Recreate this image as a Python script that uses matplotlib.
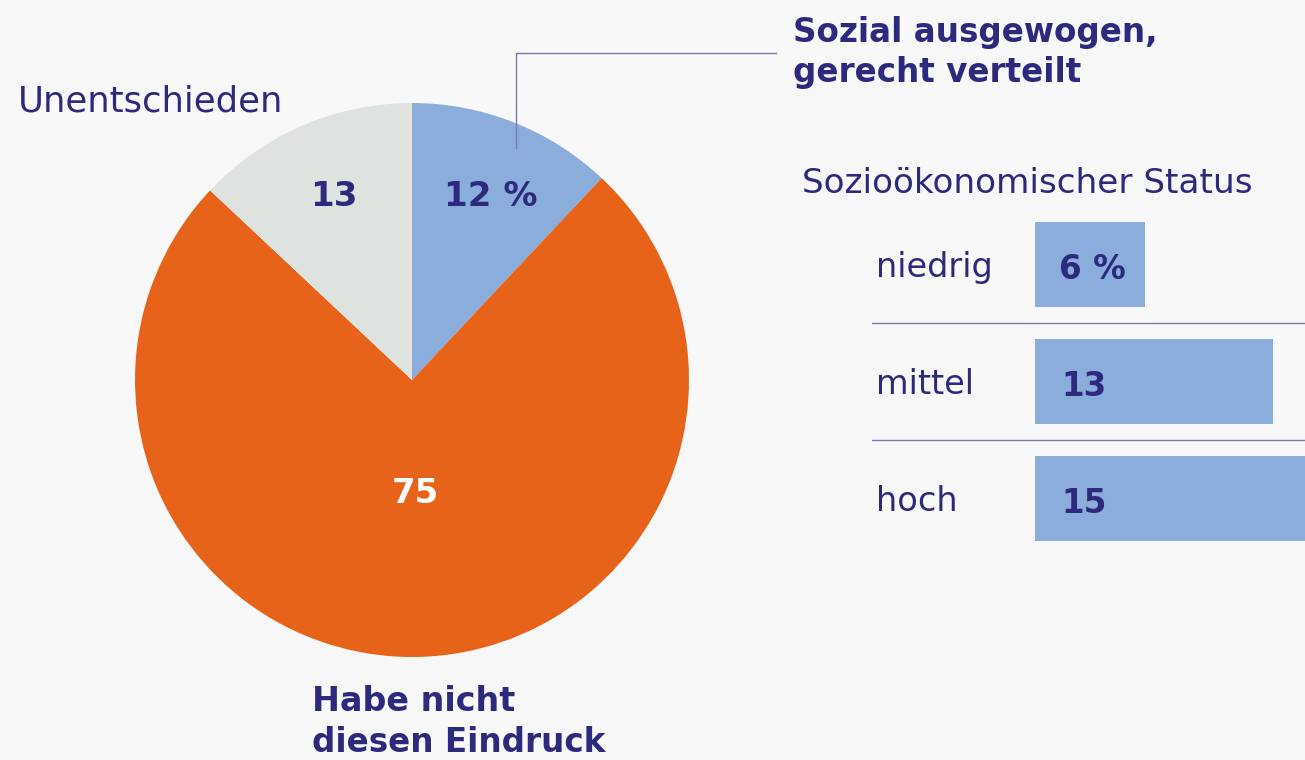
import numpy as np
import matplotlib
matplotlib.use("Agg")
import matplotlib.pyplot as plt
from matplotlib.lines import Line2D

# pie: share of respondents
pie_labels = [["Sozial ausgewogen,", "gerecht verteilt"],
              ["Habe nicht", "diesen Eindruck"],
              ["Unentschieden"]]
pie_values = [12, 75, 13]
pie_texts = ["12 %", "75", "13"]

# bars: "sozial ausgewogen" by socio-economic status
status = ["niedrig", "mittel", "hoch"]
status_values = [6, 13, 15]
status_texts = ["6 %", "13", "15"]

BG = "#f8f8f9"
INK = "#2d2a7e"
BLUE = "#8aaddc"
ORANGE = "#e8631a"
GREY = "#dfe3df"
RULE = "#7c7aa8"
W, H = 1305, 760

plt.rcParams['font.family'] = ['DejaVu Sans']

fig = plt.figure(figsize=(W / 100, H / 100), dpi=100, facecolor=BG)

def px(x, y, w, h):
    # pixel box (top-left origin) -> figure fraction
    return [x / W, 1 - (y + h) / H, w / W, h / H]

def ftext(x, y, s, **kw):
    fig.text(x / W, 1 - y / H, s, color=INK, ha="left", va="baseline", **kw)

# ---- pie ----
cx, cy, r = 412, 380, 277
ax = fig.add_axes(px(cx - r, cy - r, 2 * r, 2 * r))
ax.set_facecolor("none")
ax.pie(pie_values, colors=[BLUE, ORANGE, GREY], startangle=90,
       counterclock=False, radius=1.0, wedgeprops=dict(linewidth=0))
ax.set_xlim(-1, 1)
ax.set_ylim(-1, 1)
ax.set_aspect("equal")
ax.axis("off")

# value labels inside wedges
label_pos = [(0.285, 0.664), (0.011, -0.408), (-0.282, 0.664)]
for (lx, ly), t, c in zip(label_pos, pie_texts, [INK, "white", INK]):
    ax.text(lx, ly, t, ha="center", va="center", fontsize=24.5,
            fontweight="bold", color=c)

# outside labels
ftext(793, 42, pie_labels[0][0], fontsize=23.5, fontweight="bold")
ftext(793, 82, pie_labels[0][1], fontsize=23.5, fontweight="bold")
ftext(312, 711, pie_labels[1][0], fontsize=24, fontweight="bold")
ftext(312, 752, pie_labels[1][1], fontsize=23.5, fontweight="bold")
ftext(18, 112, pie_labels[2][0], fontsize=25.5)

# leader line to the blue wedge
fig.add_artist(Line2D([516 / W, 516 / W, 776 / W],
                      [1 - 148 / H, 1 - 53 / H, 1 - 53 / H],
                      color=RULE, lw=1.0))

# ---- bars ----
scale = 18.33            # px per percent
gap = (1035 - 872) / scale
bx = fig.add_axes(px(872, 206, 1310 - 872, 351))
bx.set_facecolor("none")
y = np.arange(len(status))
bx.barh(y, status_values, height=0.72, color=BLUE, left=0)
bx.set_xlim(-gap, 15)
bx.set_ylim(len(status) - 0.5, -0.5)
for i in range(1, len(status)):
    bx.axhline(i - 0.5, color=RULE, lw=1.0)
for i, (s, t) in enumerate(zip(status, status_texts)):
    bx.text(-gap + 0.2, i + 0.11, s, ha="left", va="baseline",
            fontsize=24.2, color=INK)
    bx.text(1.3 if i == 0 else 1.45, i + 0.125, t, ha="left", va="baseline",
            fontsize=23.5, fontweight="bold", color=INK)
bx.axis("off")

ftext(802, 193, "Sozioökonomischer Status", fontsize=24.7)

fig.savefig("out.png", dpi=100, facecolor=BG)
